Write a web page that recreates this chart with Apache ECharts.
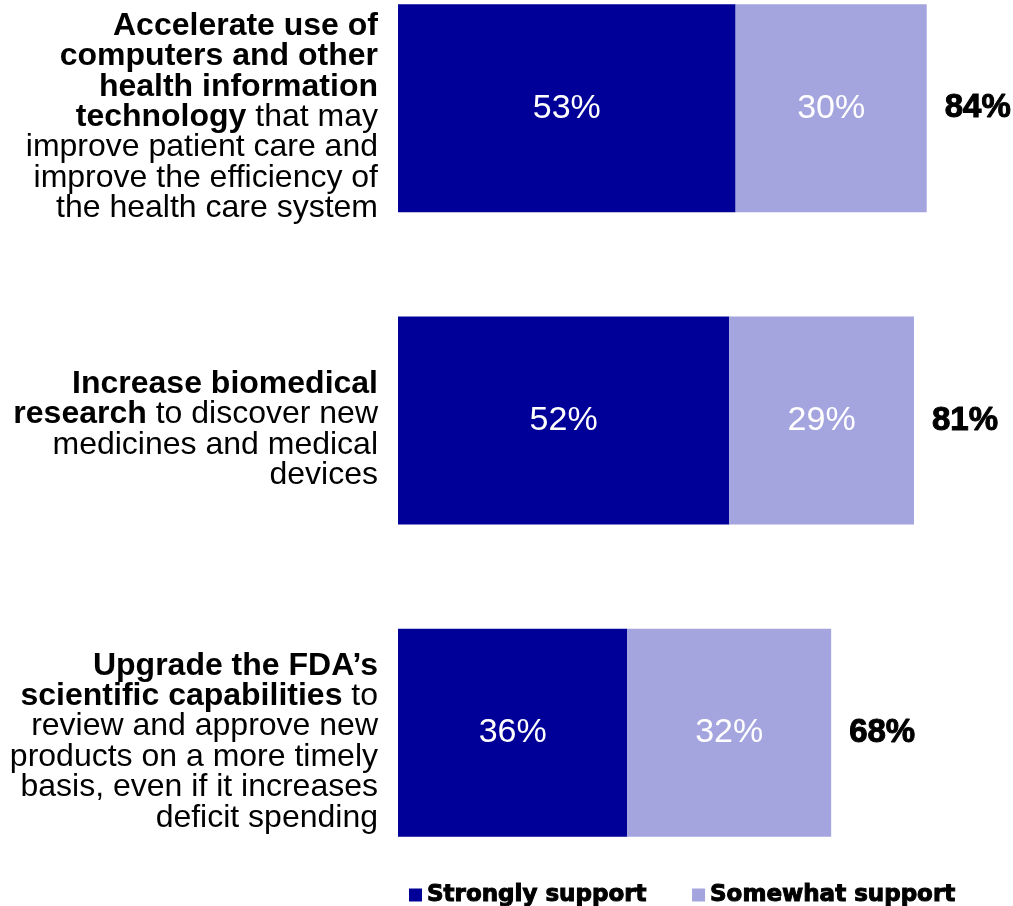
<!DOCTYPE html>
<html>
<head>
<meta charset="utf-8">
<script src="https://cdn.jsdelivr.net/npm/echarts@6/dist/echarts.min.js"></script>
<style>
  html, body { margin: 0; padding: 0; background: #fff; }
  #chart { width: 1013px; height: 906px; }
</style>
</head>
<body>
<div id="chart"></div>
<script>
// categories (top to bottom)
var categories = ['Accelerate', 'Increase', 'Upgrade'];
// label text per category: each line is [bold part, normal part]
var labelLines = [
  [['Accelerate use of', ''], ['computers and other', ''], ['health information', ''],
   ['technology', ' that may'], ['', 'improve patient care and'],
   ['', 'improve the efficiency of'], ['', 'the health care system']],
  [['Increase biomedical', ''], ['research', ' to discover new'],
   ['', 'medicines and medical'], ['', 'devices']],
  [['Upgrade the FDA\u2019s', ''], ['scientific capabilities', ' to'],
   ['', 'review and approve new'], ['', 'products on a more timely'],
   ['', 'basis, even if it increases'], ['', 'deficit spending']]
];
var strongly = [53, 52, 36];
var somewhat = [30, 29, 32];
var totals = [84, 81, 68];

var FONT = '"Liberation Sans", Arial, sans-serif';

function buildLabel(idx) {
  var lines = labelLines[idx].map(function (l) {
    var s = '';
    if (l[0]) s += '{b|' + l[0] + '}';
    if (l[1]) s += '{n|' + l[1] + '}';
    return s;
  });
  return lines.join('\n');
}

var option = {
  backgroundColor: '#fff',
  animation: false,
  grid: { left: 398, top: -48, width: 637, height: 937, outerBoundsMode: 'none' },
  legend: {
    data: ['Strongly support', 'Somewhat support'],
    left: 404,
    top: 878,
    icon: 'rect',
    itemWidth: 13,
    itemHeight: 13,
    itemGap: 45,
    textStyle: {
      fontFamily: '"DejaVu Sans", sans-serif',
      fontWeight: 'bold',
      fontSize: 23,
      color: '#000',
      textBorderColor: '#000',
      textBorderWidth: 1
    }
  },
  xAxis: {
    type: 'value',
    min: 0,
    max: 100,
    show: false
  },
  yAxis: {
    type: 'category',
    inverse: true,
    data: categories,
    axisLine: { show: false },
    axisTick: { show: false },
    axisLabel: {
      interval: 0,
      margin: 20,
      padding: [18, 0, 0, 0],
      formatter: function (v, i) { return buildLabel(i); },
      rich: {
        b: { fontFamily: FONT, fontSize: 32, lineHeight: 30.4, fontWeight: 'bold', color: '#000', align: 'right' },
        n: { fontFamily: FONT, fontSize: 32, lineHeight: 30.4, color: '#000', align: 'right' }
      }
    }
  },
  series: [
    {
      name: 'Strongly support',
      type: 'bar',
      stack: 'all',
      barWidth: 208,
      itemStyle: { color: '#000099' },
      label: {
        show: true,
        position: 'inside',
        formatter: '{c}%',
        color: '#fff',
        fontFamily: FONT,
        fontSize: 34
      },
      data: strongly
    },
    {
      name: 'Somewhat support',
      type: 'bar',
      stack: 'all',
      barWidth: 208,
      itemStyle: { color: '#a4a4df' },
      label: {
        show: true,
        position: 'inside',
        formatter: '{c}%',
        color: '#fff',
        fontFamily: FONT,
        fontSize: 34
      },
      data: somewhat
    },
    {
      name: 'Total',
      type: 'bar',
      stack: 'all',
      barWidth: 208,
      itemStyle: { color: 'transparent' },
      label: {
        show: true,
        position: 'right',
        distance: 18,
        formatter: function (p) { return totals[p.dataIndex] + '%'; },
        color: '#000',
        fontFamily: FONT,
        fontWeight: 'bold',
        fontSize: 33,
        textBorderColor: '#000',
        textBorderWidth: 1
      },
      data: [0, 0, 0]
    }
  ]
};

var myChart = echarts.init(document.getElementById('chart'));
myChart.setOption(option);
</script>
</body>
</html>
